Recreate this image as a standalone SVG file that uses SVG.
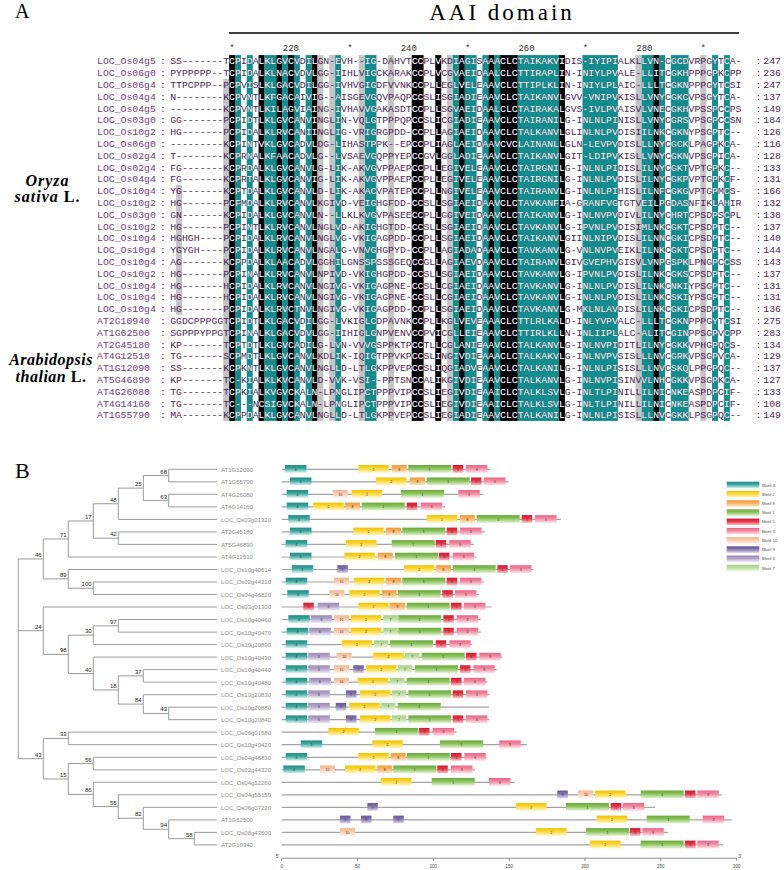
<svg xmlns="http://www.w3.org/2000/svg" width="784" height="870" viewBox="0 0 784 870">
<style>
.ttl{font-family:"Liberation Serif","Times New Roman",serif;fill:#000}
.sp{font-family:"Liberation Serif","Times New Roman",serif;font-weight:bold;font-size:16px;fill:#000}
.rul{font-family:"Liberation Mono",monospace;font-size:9px;fill:#333;text-anchor:middle}
.tk{fill:#000}.tt{fill:#128c8c}.tg{fill:#c4c4c4}
.lf{font-family:"Liberation Sans",Arial,sans-serif;font-size:6px;fill:#8a8a8a}
.bs{font-family:"Liberation Sans",Arial,sans-serif;font-size:6px;fill:#222;text-anchor:end}
.tree{fill:none;stroke:#9a9a9a;stroke-width:1}
.gl{fill:none;stroke:#a3a3a3;stroke-width:1.2}
.lg{font-family:"Liberation Sans",Arial,sans-serif;font-size:4.3px;fill:#555}
.ax{font-family:"Liberation Sans",Arial,sans-serif;font-size:4.6px;fill:#444;text-anchor:middle}
</style>
<defs>
<linearGradient id="g4" x1="0" y1="0" x2="0" y2="1"><stop offset="0" stop-color="#1f8a83"/><stop offset="0.45" stop-color="#3fa9a1"/><stop offset="1" stop-color="#dff3f1"/></linearGradient>
<linearGradient id="g2" x1="0" y1="0" x2="0" y2="1"><stop offset="0" stop-color="#efc100"/><stop offset="0.45" stop-color="#fbd83a"/><stop offset="1" stop-color="#fff8d2"/></linearGradient>
<linearGradient id="g8" x1="0" y1="0" x2="0" y2="1"><stop offset="0" stop-color="#ee9a3a"/><stop offset="0.45" stop-color="#f6b465"/><stop offset="1" stop-color="#fde9d0"/></linearGradient>
<linearGradient id="g1" x1="0" y1="0" x2="0" y2="1"><stop offset="0" stop-color="#68a83a"/><stop offset="0.45" stop-color="#8cc45d"/><stop offset="1" stop-color="#e7f3da"/></linearGradient>
<linearGradient id="g5" x1="0" y1="0" x2="0" y2="1"><stop offset="0" stop-color="#d4152b"/><stop offset="0.45" stop-color="#e83a4b"/><stop offset="1" stop-color="#f9c8ce"/></linearGradient>
<linearGradient id="g3" x1="0" y1="0" x2="0" y2="1"><stop offset="0" stop-color="#e8668a"/><stop offset="0.45" stop-color="#f28aa2"/><stop offset="1" stop-color="#fde5eb"/></linearGradient>
<linearGradient id="g10" x1="0" y1="0" x2="0" y2="1"><stop offset="0" stop-color="#f4b58f"/><stop offset="0.45" stop-color="#f9caae"/><stop offset="1" stop-color="#fff2ea"/></linearGradient>
<linearGradient id="g9" x1="0" y1="0" x2="0" y2="1"><stop offset="0" stop-color="#66569a"/><stop offset="0.45" stop-color="#8576b0"/><stop offset="1" stop-color="#ddd7ec"/></linearGradient>
<linearGradient id="g6" x1="0" y1="0" x2="0" y2="1"><stop offset="0" stop-color="#9a8bb8"/><stop offset="0.45" stop-color="#b2a5cb"/><stop offset="1" stop-color="#efebf5"/></linearGradient>
<linearGradient id="g7" x1="0" y1="0" x2="0" y2="1"><stop offset="0" stop-color="#a4d081"/><stop offset="0.45" stop-color="#bddea0"/><stop offset="1" stop-color="#f2f9ea"/></linearGradient>
<g id="b4" font-family="Liberation Sans, Arial, sans-serif" font-size="3.4" fill="#333" text-anchor="middle"><rect y="-4.3" width="21.5" height="7.8" fill="url(#g4)"/><text x="10.75" y="1.2">4</text></g>
<g id="b2" font-family="Liberation Sans, Arial, sans-serif" font-size="3.4" fill="#333" text-anchor="middle"><rect y="-4.3" width="30.5" height="7.8" fill="url(#g2)"/><text x="15.25" y="1.2">2</text></g>
<g id="b8" font-family="Liberation Sans, Arial, sans-serif" font-size="3.4" fill="#333" text-anchor="middle"><rect y="-4.3" width="15" height="7.8" fill="url(#g8)"/><text x="7.5" y="1.2">8</text></g>
<g id="b1" font-family="Liberation Sans, Arial, sans-serif" font-size="3.4" fill="#333" text-anchor="middle"><rect y="-4.3" width="43" height="7.8" fill="url(#g1)"/><text x="21.5" y="1.2">1</text></g>
<g id="b5" font-family="Liberation Sans, Arial, sans-serif" font-size="3.4" fill="#333" text-anchor="middle"><rect y="-4.3" width="10.5" height="7.8" fill="url(#g5)"/><text x="5.25" y="1.2">5</text></g>
<g id="b3" font-family="Liberation Sans, Arial, sans-serif" font-size="3.4" fill="#333" text-anchor="middle"><rect y="-4.3" width="21.5" height="7.8" fill="url(#g3)"/><text x="10.75" y="1.2">3</text></g>
<g id="b10" font-family="Liberation Sans, Arial, sans-serif" font-size="3.4" fill="#333" text-anchor="middle"><rect y="-4.3" width="15" height="7.8" fill="url(#g10)"/><text x="7.5" y="1.2">10</text></g>
<g id="b9" font-family="Liberation Sans, Arial, sans-serif" font-size="3.4" fill="#333" text-anchor="middle"><rect y="-4.3" width="10.5" height="7.8" fill="url(#g9)"/><text x="5.25" y="1.2">9</text></g>
<g id="b6" font-family="Liberation Sans, Arial, sans-serif" font-size="3.4" fill="#333" text-anchor="middle"><rect y="-4.3" width="21.5" height="7.8" fill="url(#g6)"/><text x="10.75" y="1.2">6</text></g>
<g id="b7" font-family="Liberation Sans, Arial, sans-serif" font-size="3.4" fill="#333" text-anchor="middle"><rect y="-4.3" width="14.5" height="7.8" fill="url(#g7)"/><text x="7.25" y="1.2">7</text></g>
<clipPath id="darkcols">
<rect x="229.1" y="55.1" width="6" height="365.8"/><rect x="258.55" y="55.1" width="6" height="365.8"/><rect x="276.22" y="55.1" width="6" height="365.8"/><rect x="288" y="55.1" width="6" height="365.8"/><rect x="311.56" y="55.1" width="6" height="365.8"/><rect x="411.69" y="55.1" width="11.9" height="365.8"/><rect x="435.25" y="55.1" width="6" height="365.8"/><rect x="458.81" y="55.1" width="6" height="365.8"/><rect x="488.26" y="55.1" width="6" height="365.8"/><rect x="500.04" y="55.1" width="17.8" height="365.8"/><rect x="558.94" y="55.1" width="6" height="365.8"/><rect x="653.18" y="55.1" width="6" height="365.8"/>
<rect x="234.99" y="55.1" width="6" height="365.8"/><rect x="246.77" y="55.1" width="6" height="365.8"/><rect x="264.44" y="55.1" width="11.9" height="365.8"/><rect x="282.11" y="55.1" width="6" height="365.8"/><rect x="293.89" y="55.1" width="6" height="365.8"/><rect x="305.67" y="55.1" width="6" height="365.8"/><rect x="335.12" y="55.1" width="6" height="365.8"/><rect x="364.57" y="55.1" width="11.9" height="365.8"/><rect x="452.92" y="55.1" width="6" height="365.8"/><rect x="464.7" y="55.1" width="11.9" height="365.8"/><rect x="482.37" y="55.1" width="6" height="365.8"/><rect x="494.15" y="55.1" width="6" height="365.8"/><rect x="517.71" y="55.1" width="41.3" height="365.8"/><rect x="582.5" y="55.1" width="35.4" height="365.8"/><rect x="641.4" y="55.1" width="11.9" height="365.8"/><rect x="659.07" y="55.1" width="6" height="365.8"/><rect x="670.85" y="55.1" width="17.8" height="365.8"/><rect x="712.08" y="55.1" width="6" height="365.8"/><rect x="723.86" y="55.1" width="6" height="365.8"/>
</clipPath>
</defs>

<g id="panelA">
<text class="ttl" x="15" y="18.3" font-size="20">A</text>
<text class="ttl" x="502" y="20" font-size="23" letter-spacing="3" text-anchor="middle">AAI domain</text>
<path d="M229 33H739" stroke="#000" stroke-width="1.6"/>
<g id="ruler">
<text class="rul" x="232" y="50.5">*</text><text class="rul" x="290.9" y="50.5">220</text><text class="rul" x="349.85" y="50.5">*</text><text class="rul" x="408.75" y="50.5">240</text><text class="rul" x="467.65" y="50.5">*</text><text class="rul" x="526.55" y="50.5">260</text><text class="rul" x="585.45" y="50.5">*</text><text class="rul" x="644.35" y="50.5">280</text><text class="rul" x="703.25" y="50.5">*</text>
</g>
<g id="shading">
<rect class="tk" x="229.1" y="55.1" width="6" height="365.8"/><rect class="tk" x="258.55" y="55.1" width="6" height="365.8"/><rect class="tk" x="276.22" y="55.1" width="6" height="365.8"/><rect class="tk" x="288" y="55.1" width="6" height="365.8"/><rect class="tk" x="311.56" y="55.1" width="6" height="365.8"/><rect class="tk" x="411.69" y="55.1" width="11.9" height="365.8"/><rect class="tk" x="435.25" y="55.1" width="6" height="365.8"/><rect class="tk" x="458.81" y="55.1" width="6" height="365.8"/><rect class="tk" x="488.26" y="55.1" width="6" height="365.8"/><rect class="tk" x="500.04" y="55.1" width="17.8" height="365.8"/><rect class="tk" x="558.94" y="55.1" width="6" height="365.8"/><rect class="tk" x="653.18" y="55.1" width="6" height="365.8"/>
<rect class="tt" x="234.99" y="55.1" width="6" height="365.8"/><rect class="tt" x="246.77" y="55.1" width="6" height="365.8"/><rect class="tt" x="264.44" y="55.1" width="11.9" height="365.8"/><rect class="tt" x="282.11" y="55.1" width="6" height="365.8"/><rect class="tt" x="293.89" y="55.1" width="6" height="365.8"/><rect class="tt" x="305.67" y="55.1" width="6" height="365.8"/><rect class="tt" x="335.12" y="55.1" width="6" height="365.8"/><rect class="tt" x="364.57" y="55.1" width="11.9" height="365.8"/><rect class="tt" x="452.92" y="55.1" width="6" height="365.8"/><rect class="tt" x="464.7" y="55.1" width="11.9" height="365.8"/><rect class="tt" x="482.37" y="55.1" width="6" height="365.8"/><rect class="tt" x="494.15" y="55.1" width="6" height="365.8"/><rect class="tt" x="517.71" y="55.1" width="41.3" height="365.8"/><rect class="tt" x="582.5" y="55.1" width="35.4" height="365.8"/><rect class="tt" x="641.4" y="55.1" width="11.9" height="365.8"/><rect class="tt" x="659.07" y="55.1" width="6" height="365.8"/><rect class="tt" x="670.85" y="55.1" width="17.8" height="365.8"/><rect class="tt" x="712.08" y="55.1" width="6" height="365.8"/><rect class="tt" x="723.86" y="55.1" width="6" height="365.8"/>
<rect class="tg" x="223.21" y="78.7" width="5.9" height="342.2"/><rect class="tg" x="176.09" y="184.9" width="5.9" height="129.8"/><rect class="tg" x="317.45" y="55.1" width="5.9" height="365.8"/><rect class="tg" x="329.23" y="55.1" width="5.9" height="365.8"/><rect class="tg" x="358.68" y="55.1" width="5.9" height="365.8"/><rect class="tg" x="388.13" y="55.1" width="5.9" height="365.8"/><rect class="tg" x="447.03" y="55.1" width="5.9" height="365.8"/><rect class="tg" x="635.51" y="55.1" width="5.9" height="365.8"/><rect class="tg" x="700.3" y="55.1" width="5.9" height="365.8"/>
</g>
<g fill="#4d1f52">
<g id="alnText" font-family="Liberation Mono, Courier New, monospace" font-size="9.8">
<g fill="#70407a">
<text x="97" y="64.4">LOC_Os04g5</text><text x="97" y="76.2">LOC_Os06g0</text><text x="97" y="88">LOC_Os06g4</text><text x="97" y="99.8">LOC_Os04g4</text><text x="97" y="111.6">LOC_Os04g5</text><text x="97" y="123.4">LOC_Os03g0</text><text x="97" y="135.2">LOC_Os10g2</text><text x="97" y="147">LOC_Os06g0</text><text x="97" y="158.8">LOC_Os02g4</text><text x="97" y="170.6">LOC_Os02g4</text><text x="97" y="182.4">LOC_Os04g4</text><text x="97" y="194.2">LOC_Os10g4</text><text x="97" y="206">LOC_Os10g2</text><text x="97" y="217.8">LOC_Os03g0</text><text x="97" y="229.6">LOC_Os10g2</text><text x="97" y="241.4">LOC_Os10g4</text><text x="97" y="253.2">LOC_Os10g4</text><text x="97" y="265">LOC_Os10g4</text><text x="97" y="276.8">LOC_Os10g2</text><text x="97" y="288.6">LOC_Os10g4</text><text x="97" y="300.4">LOC_Os10g4</text><text x="97" y="312.2">LOC_Os10g4</text><text x="97" y="324">AT2G10940</text><text x="97" y="335.8">AT1G62500</text><text x="97" y="347.6">AT2G45180</text><text x="97" y="359.4">AT4G12510</text><text x="97" y="371.2">AT1G12090</text><text x="97" y="383">AT5G46890</text><text x="97" y="394.8">AT4G26080</text><text x="97" y="406.6">AT4G14160</text><text x="97" y="418.4">AT1G55790</text>
</g>
<g>
<text x="160" y="64.4">:</text><text x="160" y="76.2">:</text><text x="160" y="88">:</text><text x="160" y="99.8">:</text><text x="160" y="111.6">:</text><text x="160" y="123.4">:</text><text x="160" y="135.2">:</text><text x="160" y="147">:</text><text x="160" y="158.8">:</text><text x="160" y="170.6">:</text><text x="160" y="182.4">:</text><text x="160" y="194.2">:</text><text x="160" y="206">:</text><text x="160" y="217.8">:</text><text x="160" y="229.6">:</text><text x="160" y="241.4">:</text><text x="160" y="253.2">:</text><text x="160" y="265">:</text><text x="160" y="276.8">:</text><text x="160" y="288.6">:</text><text x="160" y="300.4">:</text><text x="160" y="312.2">:</text><text x="160" y="324">:</text><text x="160" y="335.8">:</text><text x="160" y="347.6">:</text><text x="160" y="359.4">:</text><text x="160" y="371.2">:</text><text x="160" y="383">:</text><text x="160" y="394.8">:</text><text x="160" y="406.6">:</text><text x="160" y="418.4">:</text>
</g>
<g>
<text x="170.2" y="64.4" textLength="571.3">SS-------TCPIDALKLGVCVDILGN-EVH--IG-DAHVTCCPLVKDIAGISAAACLCTAIKAKVIDIS-IYIPIALKLLVN-CGCDVRPGYTCA-</text>
<text x="170.2" y="76.2" textLength="571.3">PYPPPPP--TCPIDALKLNACVDVLGG-IIHLVIGCKARAKCCPLVCGVAEIDAALCLCTTIRAPLIN-INIYLPVALE-LLITCGKHPPPGPKCPP</text>
<text x="170.2" y="88" textLength="571.3">TTPCPPP--PCPVISLKLGACVDILGG-IVHVGIGDFVVNKCCPLLEGLVELEAAVCLCTTIPLKLIN-INIYLPLAIC-LLLTCGKNPPPGYTCSI</text>
<text x="170.2" y="99.8" textLength="571.3">N--------KCPVNTLKFGACAIVIG--AISGEVGQVPAQPCCSLISGIADIEAAVCLCTAIKANVLGVV-VNIPVKISLLVNYCGKCVPSGYTCA-</text>
<text x="170.2" y="111.6" textLength="571.3">---------KCPVNTLKILAGVIAING-IVHAVVGAKASDTCCPLLSGVAEIDAALCLCTAIRAKALGVS-IVLPVAISVLVNECGKHVPSSPCCPS</text>
<text x="170.2" y="123.4" textLength="571.3">GG-------PCPIDTLKLGVCANVINGLIN-VQLGTPPPQPCCSLICGIADIEAAVCLCTAIRANILG-INLNLPINISLLVNYCGRSVPSGPCCSN</text>
<text x="170.2" y="135.2" textLength="571.3">HG-------PCPIDALKLRVCANIINGLIG-VRIGRGPDD-CCPLLAGIAEIDAAVCLCTALKANVLGLINLNLPVDISIILNKCGKNYPSGPTC--</text>
<text x="170.2" y="147" textLength="571.3">---------KCPINTVKLGVCADVLDG-LIHASTPPK--EPCCPLIAGLAEIDAAVCVCLAINANLLGLN-LEVPVDISLLLNYCGCKLPAGPKCA-</text>
<text x="170.2" y="158.8" textLength="571.3">T--------KCPRNALKFAACADVLG--LVSAEVGQPPYEPCCGVLGGLADIEAAVCLCTAIKANVLGIT-LDIPVKISLLVNYCGKNVPSGPICA-</text>
<text x="170.2" y="170.6" textLength="571.3">FG-------KCPRDALKLGVCANVLG-LIK-AKVGVPPAEPCCPLLEGIVELEAAVCLCTAIRGNILG-INLNLPIDISLILNYCGKTVPTGPKC--</text>
<text x="170.2" y="182.4" textLength="571.3">FG-------KCPRTALKLGVCANVIG-LIK-AKVGVPPAEPCCPLLEGIVELEAAVCLCTAIRGNILG-INLNLPVDISLILNYCGKPVPTGPKCF-</text>
<text x="170.2" y="194.2" textLength="571.3">YG-------KCPTDALKLGVCANVLD-LIK-AKACVPATEPCCPLLNGIVELEAAVCLCTAIRANVLG-INLNLPIHISLILNFCGKGVPTGPMCS-</text>
<text x="170.2" y="206" textLength="571.3">HG-------PCFMDALKLRVCANVLKGIVD-VEIGHGFDD-CCSLLSGIAEIDAAVCLCTAVKANFIA-GRANFVGTGTVEILPGDASNFIKLAHIR</text>
<text x="170.2" y="217.8" textLength="571.3">GN-------KCPIDALKLGVCANVLN--LLKLKVGVPASEECCPLLGGIVEIDAAVCLCTAIKANVLG-INLNVPVDIVLILNYCHRTCPSDPSCPL</text>
<text x="170.2" y="229.6" textLength="571.3">HG-------PCPINTLKLRVCANVLNGLVD-AKIGHGTDD-CCSLLSGIAEIDAAVCLCTAVKANVLG-IPVNLPVDISIMLNKCGKTCPSDPTC--</text>
<text x="170.2" y="241.4" textLength="571.3">HGHGH----PCPIDALKLRVCANVLNGLVG-VKIGAGPDD-CCPLLSGIAEIDAAVCLCTAIKANVLGIINLNIPVDISLILNNCGKICPSDPTC--</text>
<text x="170.2" y="253.2" textLength="571.3">YGYGH----PCPIDALKLRVCANVLNGALG-VNVGHGPYD-CCPLLAGIADADAAVCLCTAVKANVLG-VNLNVPVEIKLILNKCGKTCPSDPTC--</text>
<text x="170.2" y="265" textLength="571.3">AG-------KCPPDALKLAACADVLGGHILGNSSPSSSGEQCCGLLAGIAEVDAAVCLCTAIRANVLGIVGVEPHVGISVLVNPGSPKLPNGPCCSS</text>
<text x="170.2" y="276.8" textLength="571.3">HG-------PCPINALKLRVCANVLNPIVD-VKIGHGPDD-CCSLLSGIAEIDAAVCLCTAVKANVLG-IPVNLPVDISLILNKCGKSCPSDPTC--</text>
<text x="170.2" y="288.6" textLength="571.3">HG-------HCPIDALKLRVCANVLNGIVG-VKIGAGPNE-CCSLLCGIAEIDAAVCLCTAVKANVLG-INLNLPVDISLILNKCNKIYPSGPTC--</text>
<text x="170.2" y="300.4" textLength="571.3">HG-------HCPIDALKLRVCANVLNGIVG-VKIGAGPNE-CCSLLCGIAEIDAAVCLCTAVKANVLG-INLNLPVDISLILNKCSKIYPSGPTC--</text>
<text x="170.2" y="312.2" textLength="571.3">HG-------PCPIDALKLRVCTNVLNGIVG-VKIGAGPDD-CCPLLSGIAEIDAAVCLCTAVKANVLG-MKLNLAVDISLILNKCGKICPSDPTC--</text>
<text x="170.2" y="324" textLength="571.3">GGDCPPPGGTCPIDTLKLGACVDILGG-LVKIGLCDPAVNKCCPLLKGLVEVEAAACLCTTLRLKALD-INLYVPVALC-LLLTCGKNPPPGYTCSI</text>
<text x="170.2" y="335.8" textLength="571.3">SGPPPYPPGTCPINALKLGACVDVLGG-IIHIGLGNPVENVCCPVICGLLEIEAAVCLCTTIRLKLLN-INLIIPLALC-ALITCGINPPSGPVCPP</text>
<text x="170.2" y="347.6" textLength="571.3">KP-------TCPTDTLKLGVCADILG-LVN-VVVGSPPKTPCCTLLCGLANIEAAVCLCTALKANVLG-INLNVPIDITLILNYCGKKVPHGPQCS-</text>
<text x="170.2" y="359.4" textLength="571.3">TG-------SCPMDTLKLGVCANVLKDLIK-IQIGTPPVKPCCSLINGIVDIEAAACLCTALKAKVLG-INLNVPVSISLLLNVCGRKVPSGPVCA-</text>
<text x="170.2" y="371.2" textLength="571.3">SS-------KCPKNTLKLGVCANVLNGLLD-LTLGKPPVEPCCSLIQGIADVEAAVCLCTALKANILG-INLNLPISISLLLNVCSKQLPPGPQC--</text>
<text x="170.2" y="383" textLength="571.3">KP-------TC-KIALKLKVCANVLD-VVK-VSI--PPTSNCCALIKGIVDIEAAVCLCTALKANVLG-INLNVPISINVVLNHCGKKVPSGPKCA-</text>
<text x="170.2" y="394.8" textLength="571.3">TG-------TCPKIALKVGVCKALN-LPNGLIPCTPPPVIPCCSLIEGIVDIEAAICLCTALKLSVLG-INLTLPINILLILNICNKEASPDPCIF-</text>
<text x="170.2" y="406.6" textLength="571.3">TG-------TC---NCSIGVCKALN-LPNGLIPCTPPPVIPCCSLIEGIVDIEAAICLCTALKLSVLG-INLTLPINILLILNICNKEASPDPCIF-</text>
<text x="170.2" y="418.4" textLength="571.3">MA-------KCPPDALKLGVCANVLNGLLD-LTLGKPPVEPCCSLIEGIADIEAAVCLCTALKANILG-INLNLPISISLLLNVCGKKLPSGPQC--</text>
</g>
<g>
<text x="755.5" y="64.4">:</text><text x="755.5" y="76.2">:</text><text x="755.5" y="88">:</text><text x="755.5" y="99.8">:</text><text x="755.5" y="111.6">:</text><text x="755.5" y="123.4">:</text><text x="755.5" y="135.2">:</text><text x="755.5" y="147">:</text><text x="755.5" y="158.8">:</text><text x="755.5" y="170.6">:</text><text x="755.5" y="182.4">:</text><text x="755.5" y="194.2">:</text><text x="755.5" y="206">:</text><text x="755.5" y="217.8">:</text><text x="755.5" y="229.6">:</text><text x="755.5" y="241.4">:</text><text x="755.5" y="253.2">:</text><text x="755.5" y="265">:</text><text x="755.5" y="276.8">:</text><text x="755.5" y="288.6">:</text><text x="755.5" y="300.4">:</text><text x="755.5" y="312.2">:</text><text x="755.5" y="324">:</text><text x="755.5" y="335.8">:</text><text x="755.5" y="347.6">:</text><text x="755.5" y="359.4">:</text><text x="755.5" y="371.2">:</text><text x="755.5" y="383">:</text><text x="755.5" y="394.8">:</text><text x="755.5" y="406.6">:</text><text x="755.5" y="418.4">:</text>
</g>
<g text-anchor="end">
<text x="781" y="64.4">247</text><text x="781" y="76.2">236</text><text x="781" y="88">247</text><text x="781" y="99.8">137</text><text x="781" y="111.6">149</text><text x="781" y="123.4">184</text><text x="781" y="135.2">126</text><text x="781" y="147">116</text><text x="781" y="158.8">128</text><text x="781" y="170.6">133</text><text x="781" y="182.4">131</text><text x="781" y="194.2">166</text><text x="781" y="206">132</text><text x="781" y="217.8">138</text><text x="781" y="229.6">137</text><text x="781" y="241.4">140</text><text x="781" y="253.2">144</text><text x="781" y="265">143</text><text x="781" y="276.8">137</text><text x="781" y="288.6">131</text><text x="781" y="300.4">131</text><text x="781" y="312.2">136</text><text x="781" y="324">275</text><text x="781" y="335.8">283</text><text x="781" y="347.6">134</text><text x="781" y="359.4">129</text><text x="781" y="371.2">137</text><text x="781" y="383">127</text><text x="781" y="394.8">133</text><text x="781" y="406.6">108</text><text x="781" y="418.4">149</text>
</g>
</g>
</g>
<use href="#alnText" fill="#ffffff" clip-path="url(#darkcols)"/>
<text class="sp" x="47.5" y="185.5" text-anchor="middle" font-style="italic" letter-spacing="1">Oryza</text>
<text class="sp" x="47.5" y="201.5" text-anchor="middle" letter-spacing="1"><tspan font-style="italic">sativa</tspan> L.</text>
<text class="sp" x="51" y="365" text-anchor="middle" font-style="italic" letter-spacing="0.5">Arabidopsis</text>
<text class="sp" x="51" y="381.5" text-anchor="middle" letter-spacing="0.5"><tspan font-style="italic">thalian</tspan> L.</text>
</g>

<g id="panelB">
<text class="ttl" x="15" y="478.3" font-size="22">B</text>
<g id="tree-connectors">
<path class="tree" d="M168.7 469.3V481.8M168.7 494.3V506.9M143.3 475.55V500.6M118.3 488.1V519.4M118.3 531.9V544.4M93.3 503.75V538.15M68.3 520.95V557M93.3 582V594.5M68.3 569.5V588.25M43.3 538.98V578.9M118.3 619.5V632.1M93.3 625.8V644.6M143.3 669.6V682.1M168.7 707.2V719.7M143.3 694.7V713.45M118.3 675.85V704.08M93.3 657.1V689.96M68.3 635.2V673.53M43.3 607V654.37M68.3 732.2V744.7M93.3 757.3V769.8M194.3 832.4V844.9M168.7 819.9V838.65M143.3 807.3V829.3M118.3 794.8V818.3M93.3 782.3V806.55M68.3 763.55V794.4M43.3 738.45V778.98M18.3 558.94V758.7"/>
<path class="tree" d="M168.7 469.3H217M168.7 481.8H217M168.7 494.3H217M168.7 506.9H217M118.3 519.4H217M118.3 531.9H217M118.3 544.4H217M68.3 557H217M68.3 569.5H217M93.3 582H217M93.3 594.5H217M43.3 607H217M118.3 619.5H217M118.3 632.1H217M93.3 644.6H217M93.3 657.1H217M143.3 669.6H217M143.3 682.1H217M143.3 694.7H217M168.7 707.2H217M168.7 719.7H217M68.3 732.2H217M68.3 744.7H217M93.3 757.3H217M93.3 769.8H217M93.3 782.3H217M118.3 794.8H217M143.3 807.3H217M168.7 819.9H217M194.3 832.4H217M194.3 844.9H217"/>
<path class="tree" d="M143.3 475.55H168.7M143.3 500.6H168.7M118.3 488.1H143.3M93.3 503.75H118.3M93.3 538.15H118.3M68.3 520.95H93.3M43.3 538.98H68.3M68.3 588.25H93.3M43.3 578.9H68.3M18.3 558.94H43.3M93.3 625.8H118.3M68.3 635.2H93.3M118.3 675.85H143.3M143.3 713.45H168.7M118.3 704.08H143.3M93.3 689.96H118.3M68.3 673.53H93.3M43.3 654.37H68.3M18.3 630.7H43.3M43.3 738.45H68.3M68.3 763.55H93.3M168.7 838.65H194.3M143.3 829.3H168.7M118.3 818.3H143.3M93.3 806.55H118.3M68.3 794.4H93.3M43.3 778.98H68.3M18.3 758.7H43.3"/>
<g id="bootstrap">
<text class="bs" x="167" y="473.55">68</text><text class="bs" x="167" y="498.6">63</text><text class="bs" x="141.6" y="486.1">25</text><text class="bs" x="116.6" y="501.75">48</text><text class="bs" x="116.6" y="536.15">42</text><text class="bs" x="91.6" y="518.95">17</text><text class="bs" x="66.6" y="536.98">71</text><text class="bs" x="91.6" y="586.25">100</text><text class="bs" x="66.6" y="576.9">89</text><text class="bs" x="41.6" y="556.94">46</text><text class="bs" x="116.6" y="623.8">97</text><text class="bs" x="91.6" y="633.2">30</text><text class="bs" x="141.6" y="673.85">37</text><text class="bs" x="167" y="711.45">43</text><text class="bs" x="141.6" y="702.08">84</text><text class="bs" x="116.6" y="687.96">18</text><text class="bs" x="91.6" y="671.53">40</text><text class="bs" x="66.6" y="652.37">98</text><text class="bs" x="41.6" y="628.7">24</text><text class="bs" x="66.6" y="736.45">33</text><text class="bs" x="91.6" y="761.55">56</text><text class="bs" x="192.6" y="836.65">58</text><text class="bs" x="167" y="827.3">94</text><text class="bs" x="141.6" y="816.3">82</text><text class="bs" x="116.6" y="804.55">55</text><text class="bs" x="91.6" y="792.4">86</text><text class="bs" x="66.6" y="776.98">15</text><text class="bs" x="41.6" y="756.7">43</text>
</g>
</g>

<g id="g-AT1G12090"><text class="lf" x="221" y="471.7">AT1G12090</text><path class="gl" d="M281.7 469.3H490"/><use href="#b4" x="285" y="469.3"/><use href="#b2" x="358.3" y="469.3"/><use href="#b8" x="391.7" y="469.3"/><use href="#b1" x="408.3" y="469.3"/><use href="#b5" x="452.7" y="469.3"/><use href="#b3" x="466" y="469.3"/></g>
<g id="g-AT1G55790"><text class="lf" x="221" y="484.2">AT1G55790</text><path class="gl" d="M281.7 481.8H508.7"/><use href="#b4" x="290" y="481.8"/><use href="#b2" x="376" y="481.8"/><use href="#b8" x="410" y="481.8"/><use href="#b1" x="426.7" y="481.8"/><use href="#b5" x="471" y="481.8"/><use href="#b3" x="484" y="481.8"/></g>
<g id="g-AT4G26080"><text class="lf" x="221" y="496.7">AT4G26080</text><path class="gl" d="M281.7 494.3H483.3"/><use href="#b4" x="286.7" y="494.3"/><use href="#b10" x="332.7" y="494.3"/><use href="#b2" x="351.7" y="494.3"/><use href="#b1" x="401" y="494.3"/><use href="#b3" x="458.3" y="494.3"/></g>
<g id="g-AT4G14160"><text class="lf" x="221" y="509.3">AT4G14160</text><path class="gl" d="M281.7 506.9H445"/><use href="#b4" x="286.7" y="506.9"/><use href="#b2" x="313.3" y="506.9"/><use href="#b8" x="345" y="506.9"/><use href="#b1" x="361.7" y="506.9"/><use href="#b5" x="406.7" y="506.9"/><use href="#b3" x="420.7" y="506.9"/></g>
<g id="g-LOC_Os03g01320"><text class="lf" x="221" y="521.8">LOC_Os03g01320</text><path class="gl" d="M281.7 519.4H560.8"/><use href="#b4" x="288.3" y="519.4"/><use href="#b2" x="426.7" y="519.4"/><use href="#b8" x="460" y="519.4"/><use href="#b1" x="476.7" y="519.4"/><use href="#b5" x="521.7" y="519.4"/><use href="#b3" x="535" y="519.4"/></g>
<g id="g-AT2G45180"><text class="lf" x="221" y="534.3">AT2G45180</text><path class="gl" d="M281.7 531.9H485"/><use href="#b4" x="290" y="531.9"/><use href="#b2" x="353.3" y="531.9"/><use href="#b8" x="386" y="531.9"/><use href="#b1" x="402.3" y="531.9"/><use href="#b5" x="446.7" y="531.9"/><use href="#b3" x="460" y="531.9"/></g>
<g id="g-AT5G46890"><text class="lf" x="221" y="546.8">AT5G46890</text><path class="gl" d="M281.7 544.4H474"/><use href="#b4" x="285.7" y="544.4"/><use href="#b2" x="346" y="544.4"/><use href="#b1" x="391.7" y="544.4"/><use href="#b5" x="435.7" y="544.4"/><use href="#b3" x="449.3" y="544.4"/></g>
<g id="g-AT4G12510"><text class="lf" x="221" y="559.4">AT4G12510</text><path class="gl" d="M281.7 557H476.7"/><use href="#b4" x="290" y="557"/><use href="#b2" x="344.3" y="557"/><use href="#b8" x="377.7" y="557"/><use href="#b1" x="395" y="557"/><use href="#b5" x="439" y="557"/><use href="#b3" x="452.7" y="557"/></g>
<g id="g-LOC_Os10g40614"><text class="lf" x="221" y="571.9">LOC_Os10g40614</text><path class="gl" d="M281.7 569.5H533.5"/><use href="#b4" x="291.7" y="569.5"/><use href="#b9" x="337.3" y="569.5"/><use href="#b2" x="404" y="569.5"/><use href="#b8" x="436" y="569.5"/><use href="#b1" x="452.7" y="569.5"/><use href="#b5" x="497.3" y="569.5"/><use href="#b3" x="510" y="569.5"/></g>
<g id="g-LOC_Os02g44310"><text class="lf" x="221" y="584.4">LOC_Os02g44310</text><path class="gl" d="M281.7 582H484.3"/><use href="#b4" x="285.7" y="582"/><use href="#b10" x="334" y="582"/><use href="#b2" x="354" y="582"/><use href="#b8" x="386" y="582"/><use href="#b1" x="402.3" y="582"/><use href="#b5" x="446.7" y="582"/><use href="#b3" x="460" y="582"/></g>
<g id="g-LOC_Os04g46820"><text class="lf" x="221" y="596.9">LOC_Os04g46820</text><path class="gl" d="M281.7 594.5H479.3"/><use href="#b4" x="287.3" y="594.5"/><use href="#b10" x="329.3" y="594.5"/><use href="#b2" x="349.3" y="594.5"/><use href="#b8" x="381.7" y="594.5"/><use href="#b1" x="397.7" y="594.5"/><use href="#b5" x="442.3" y="594.5"/><use href="#b3" x="455" y="594.5"/></g>
<g id="g-LOC_Os03g01300"><text class="lf" x="221" y="609.4">LOC_Os03g01300</text><path class="gl" d="M281.7 607H491.7"/><use href="#b5" x="303.3" y="607"/><use href="#b6" x="317.7" y="607"/><use href="#b2" x="358.3" y="607"/><use href="#b8" x="390" y="607"/><use href="#b1" x="406.7" y="607"/><use href="#b5" x="451" y="607"/><use href="#b3" x="464" y="607"/></g>
<g id="g-LOC_Os10g40460"><text class="lf" x="221" y="621.9">LOC_Os10g40460</text><path class="gl" d="M281.7 619.5H480.7"/><use href="#b4" x="288.3" y="619.5"/><use href="#b6" x="310.7" y="619.5"/><use href="#b10" x="334" y="619.5"/><use href="#b2" x="350.7" y="619.5"/><use href="#b7" x="383.3" y="619.5"/><use href="#b1" x="398.3" y="619.5"/><use href="#b5" x="443.3" y="619.5"/><use href="#b3" x="456.7" y="619.5"/></g>
<g id="g-LOC_Os10g40470"><text class="lf" x="221" y="634.5">LOC_Os10g40470</text><path class="gl" d="M281.7 632.1H480.7"/><use href="#b4" x="286.7" y="632.1"/><use href="#b6" x="309.3" y="632.1"/><use href="#b10" x="334" y="632.1"/><use href="#b2" x="350.7" y="632.1"/><use href="#b7" x="383.3" y="632.1"/><use href="#b1" x="398.3" y="632.1"/><use href="#b5" x="443.3" y="632.1"/><use href="#b3" x="456.7" y="632.1"/></g>
<g id="g-LOC_Os10g20890"><text class="lf" x="221" y="647">LOC_Os10g20890</text><path class="gl" d="M281.7 644.6H471.7"/><use href="#b4" x="285.7" y="644.6"/><use href="#b2" x="341.7" y="644.6"/><use href="#b7" x="374" y="644.6"/><use href="#b1" x="390" y="644.6"/><use href="#b5" x="435.7" y="644.6"/><use href="#b3" x="449.3" y="644.6"/></g>
<g id="g-LOC_Os10g40430"><text class="lf" x="221" y="659.5">LOC_Os10g40430</text><path class="gl" d="M281.7 657.1H502.3"/><use href="#b4" x="285.7" y="657.1"/><use href="#b6" x="308.3" y="657.1"/><use href="#b10" x="336.7" y="657.1"/><use href="#b2" x="373.3" y="657.1"/><use href="#b7" x="405" y="657.1"/><use href="#b1" x="421.7" y="657.1"/><use href="#b5" x="466" y="657.1"/><use href="#b3" x="479.3" y="657.1"/></g>
<g id="g-LOC_Os10g40440"><text class="lf" x="221" y="672">LOC_Os10g40440</text><path class="gl" d="M281.7 669.6H496.7"/><use href="#b4" x="285.7" y="669.6"/><use href="#b6" x="308.3" y="669.6"/><use href="#b10" x="334" y="669.6"/><use href="#b9" x="353.3" y="669.6"/><use href="#b2" x="366" y="669.6"/><use href="#b7" x="397.7" y="669.6"/><use href="#b1" x="415" y="669.6"/><use href="#b5" x="460" y="669.6"/><use href="#b3" x="473.3" y="669.6"/></g>
<g id="g-LOC_Os10g40480"><text class="lf" x="221" y="684.5">LOC_Os10g40480</text><path class="gl" d="M281.7 682.1H487.3"/><use href="#b4" x="285.7" y="682.1"/><use href="#b6" x="309.3" y="682.1"/><use href="#b10" x="334" y="682.1"/><use href="#b2" x="357.7" y="682.1"/><use href="#b7" x="390" y="682.1"/><use href="#b1" x="406.7" y="682.1"/><use href="#b5" x="451" y="682.1"/><use href="#b3" x="464" y="682.1"/></g>
<g id="g-LOC_Os10g20830"><text class="lf" x="221" y="697.1">LOC_Os10g20830</text><path class="gl" d="M281.7 694.7H489"/><use href="#b4" x="285.7" y="694.7"/><use href="#b6" x="308.3" y="694.7"/><use href="#b9" x="346" y="694.7"/><use href="#b2" x="360" y="694.7"/><use href="#b7" x="391.7" y="694.7"/><use href="#b1" x="408.3" y="694.7"/><use href="#b5" x="452.7" y="694.7"/><use href="#b3" x="466" y="694.7"/></g>
<g id="g-LOC_Os10g20880"><text class="lf" x="221" y="709.6">LOC_Os10g20880</text><path class="gl" d="M281.7 707.2H489"/><use href="#b4" x="285.7" y="707.2"/><use href="#b6" x="308.3" y="707.2"/><use href="#b9" x="335.7" y="707.2"/><use href="#b2" x="349.3" y="707.2"/><use href="#b7" x="381" y="707.2"/><use href="#b1" x="397.7" y="707.2"/></g>
<g id="g-LOC_Os10g20840"><text class="lf" x="221" y="722.1">LOC_Os10g20840</text><path class="gl" d="M281.7 719.7H489"/><use href="#b4" x="285.7" y="719.7"/><use href="#b6" x="308.3" y="719.7"/><use href="#b9" x="346" y="719.7"/><use href="#b2" x="360" y="719.7"/><use href="#b7" x="391.7" y="719.7"/><use href="#b1" x="408.3" y="719.7"/><use href="#b5" x="452.7" y="719.7"/><use href="#b3" x="466" y="719.7"/></g>
<g id="g-LOC_Os06g01580"><text class="lf" x="221" y="734.6">LOC_Os06g01580</text><path class="gl" d="M281.7 732.2H456.7"/><use href="#b2" x="328.3" y="732.2"/><use href="#b1" x="375" y="732.2"/><use href="#b5" x="419" y="732.2"/><use href="#b3" x="432.7" y="732.2"/></g>
<g id="g-LOC_Os10g40420"><text class="lf" x="221" y="747.1">LOC_Os10g40420</text><path class="gl" d="M281.7 744.7H526.7"/><use href="#b4" x="300.7" y="744.7"/><use href="#b2" x="372.3" y="744.7"/><use href="#b1" x="440" y="744.7"/><use href="#b3" x="499.3" y="744.7"/></g>
<g id="g-LOC_Os04g46830"><text class="lf" x="221" y="759.7">LOC_Os04g46830</text><path class="gl" d="M281.7 757.3H486.7"/><use href="#b4" x="285.7" y="757.3"/><use href="#b2" x="358.3" y="757.3"/><use href="#b8" x="390.7" y="757.3"/><use href="#b1" x="406.7" y="757.3"/><use href="#b5" x="451" y="757.3"/><use href="#b3" x="464.3" y="757.3"/></g>
<g id="g-LOC_Os02g44320"><text class="lf" x="221" y="772.2">LOC_Os02g44320</text><path class="gl" d="M281.7 769.8H475"/><use href="#b4" x="283.3" y="769.8"/><use href="#b10" x="320" y="769.8"/><use href="#b2" x="345" y="769.8"/><use href="#b8" x="377.3" y="769.8"/><use href="#b1" x="393.3" y="769.8"/><use href="#b5" x="437.3" y="769.8"/><use href="#b3" x="451" y="769.8"/></g>
<g id="g-LOC_Os04g52260"><text class="lf" x="221" y="784.7">LOC_Os04g52260</text><path class="gl" d="M281.7 782.3H515"/><use href="#b2" x="381" y="782.3"/><use href="#b1" x="431.7" y="782.3"/><use href="#b3" x="489" y="782.3"/></g>
<g id="g-LOC_Os04g55159"><text class="lf" x="221" y="797.2">LOC_Os04g55159</text><path class="gl" d="M281.7 794.8H721.7"/><use href="#b9" x="557.3" y="794.8"/><use href="#b10" x="578.3" y="794.8"/><use href="#b2" x="595" y="794.8"/><use href="#b1" x="640.7" y="794.8"/><use href="#b5" x="685" y="794.8"/><use href="#b3" x="697.3" y="794.8"/></g>
<g id="g-LOC_Os06g07220"><text class="lf" x="221" y="809.7">LOC_Os06g07220</text><path class="gl" d="M281.7 807.3H655"/><use href="#b9" x="367.3" y="807.3"/><use href="#b2" x="516" y="807.3"/><use href="#b1" x="566" y="807.3"/><use href="#b5" x="610.7" y="807.3"/><use href="#b3" x="622.7" y="807.3"/></g>
<g id="g-AT1G62500"><text class="lf" x="221" y="822.3">AT1G62500</text><path class="gl" d="M281.7 819.9H731.7"/><use href="#b9" x="340" y="819.9"/><use href="#b9" x="361" y="819.9"/><use href="#b9" x="393.3" y="819.9"/><use href="#b2" x="596.7" y="819.9"/><use href="#b1" x="646.7" y="819.9"/><use href="#b3" x="702.7" y="819.9"/></g>
<g id="g-LOC_Os06g43600"><text class="lf" x="221" y="834.8">LOC_Os06g43600</text><path class="gl" d="M281.7 832.4H668.3"/><use href="#b10" x="340" y="832.4"/><use href="#b2" x="536" y="832.4"/><use href="#b1" x="586" y="832.4"/><use href="#b5" x="630" y="832.4"/><use href="#b3" x="642.3" y="832.4"/></g>
<g id="g-AT2G10940"><text class="lf" x="221" y="847.3">AT2G10940</text><path class="gl" d="M281.7 844.9H723.3"/><use href="#b2" x="590" y="844.9"/><use href="#b1" x="640.7" y="844.9"/><use href="#b5" x="685" y="844.9"/><use href="#b3" x="697.3" y="844.9"/></g>

<g id="axis">
<path d="M281.7 858.3H736.7M281.7 858.3V861M357.5 858.3V861M433.3 858.3V861M509.2 858.3V861M585 858.3V861M660.8 858.3V861M736.7 858.3V861" stroke="#777" stroke-width="0.8" fill="none"/>
<text class="ax" x="281.7" y="868">0</text><text class="ax" x="357.5" y="868">50</text><text class="ax" x="433.3" y="868">100</text><text class="ax" x="509.2" y="868">150</text><text class="ax" x="585" y="868">200</text><text class="ax" x="660.8" y="868">250</text><text class="ax" x="736.7" y="868">300</text>
<text class="ax" x="277.5" y="858">5'</text><text class="ax" x="740" y="858">3'</text>
</g>

<g id="legend">
<rect x="726.7" y="481.7" width="32.6" height="6.6" fill="url(#g4)"/><text class="lg" x="762" y="486.5">Motif 4</text>
<rect x="726.7" y="490.9" width="32.6" height="6.6" fill="url(#g2)"/><text class="lg" x="762" y="495.7">Motif 2</text>
<rect x="726.7" y="500.2" width="32.6" height="6.6" fill="url(#g8)"/><text class="lg" x="762" y="505">Motif 8</text>
<rect x="726.7" y="509.4" width="32.6" height="6.6" fill="url(#g1)"/><text class="lg" x="762" y="514.2">Motif 1</text>
<rect x="726.7" y="518.6" width="32.6" height="6.6" fill="url(#g5)"/><text class="lg" x="762" y="523.4">Motif 5</text>
<rect x="726.7" y="527.9" width="32.6" height="6.6" fill="url(#g3)"/><text class="lg" x="762" y="532.7">Motif 3</text>
<rect x="726.7" y="537.1" width="32.6" height="6.6" fill="url(#g10)"/><text class="lg" x="762" y="541.9">Motif 10</text>
<rect x="726.7" y="546.3" width="32.6" height="6.6" fill="url(#g9)"/><text class="lg" x="762" y="551.1">Motif 9</text>
<rect x="726.7" y="555.5" width="32.6" height="6.6" fill="url(#g6)"/><text class="lg" x="762" y="560.3">Motif 6</text>
<rect x="726.7" y="564.8" width="32.6" height="6.6" fill="url(#g7)"/><text class="lg" x="762" y="569.6">Motif 7</text>
</g>
</g>
</svg>
